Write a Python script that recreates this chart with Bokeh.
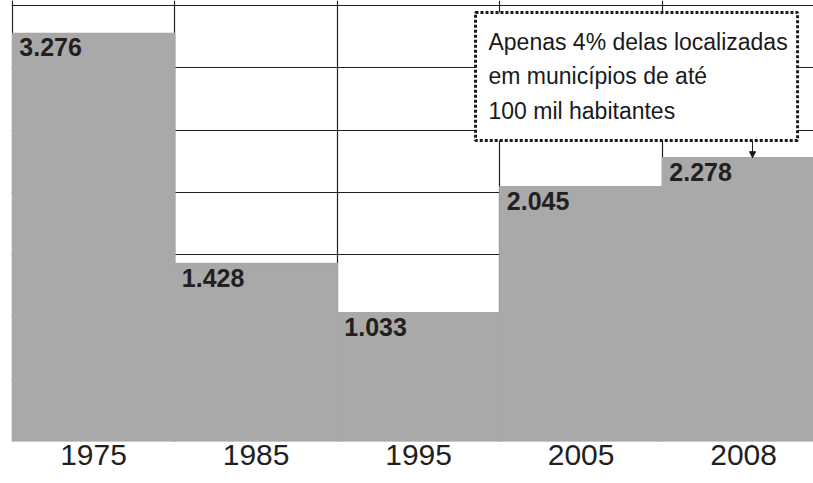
from bokeh.plotting import figure
from bokeh.models import Range1d, FixedTicker, Arrow, NormalHead
from bokeh.core.properties import value
from bokeh.embed import file_html
from bokeh.resources import INLINE

years = ["1975", "1985", "1995", "2005", "2008"]
counts = [3276, 1428, 1033, 2045, 2278]
count_labels = ["3.276", "1.428", "1.033", "2.045", "2.278"]
note_lines = ["Apenas 4% delas localizadas", "em municípios de até", "100 mil habitantes"]
grid_values = [500, 1000, 1500, 2000, 2500, 3000, 3500]

xs = list(range(len(years)))
lefts = [i - 0.5 for i in xs]

p = figure(frame_width=802, frame_height=441, output_backend="svg", toolbar_location=None,
           x_range=Range1d(-0.505, 4.43), y_range=Range1d(0, 3540),
           min_border_left=11, min_border_right=0, min_border_top=0, min_border_bottom=38)
p.outline_line_color = None
p.background_fill_color = "white"
p.border_fill_color = "white"

p.vbar(x=xs, top=counts, width=1.0, bottom=0, fill_color="#a9a9a9",
       line_color="#a9a9a9", line_width=1.5)

p.text(x=lefts, y=counts, text=count_labels, x_offset=7, y_offset=14,
       text_font=value("Liberation Sans"), text_font_style="bold", text_font_size="25px",
       text_color="#231f20", text_baseline="alphabetic", text_align="left")

# note box
p.quad(left=[2.35], right=[4.332], top=[3444], bottom=[2416], fill_color="white",
       line_color="#1a1a1a", line_width=3, line_dash="3 2")
note_y = [3203, 2930, 2657]
p.text(x=[2.43] * 3, y=note_y, text=note_lines, text_font=value("Liberation Sans"),
       text_font_size="23px", text_color="#1a1a1a", text_baseline="alphabetic",
       text_align="left")
p.add_layout(Arrow(end=NormalHead(size=6, fill_color="#1a1a1a", line_color="#1a1a1a"),
                   x_start=4.055, y_start=2410, x_end=4.055, y_end=counts[4],
                   line_color="#1a1a1a", line_width=1))

p.yaxis.visible = False
p.xaxis.ticker = FixedTicker(ticks=xs)
p.xaxis.major_label_overrides = {i: y for i, y in zip(xs, years)}
p.xaxis.axis_line_color = None
p.xaxis.major_tick_line_color = None
p.xaxis.minor_tick_line_color = None
p.xaxis.major_label_text_font = "Liberation Sans"
p.xaxis.major_label_text_font_size = "30px"
p.xaxis.major_label_text_color = "#231f20"
p.xaxis.major_label_standoff = -3

p.xgrid.ticker = FixedTicker(ticks=lefts)
p.xgrid.grid_line_color = "#231f20"
p.xgrid.grid_line_width = 1.2
p.ygrid.ticker = FixedTicker(ticks=grid_values)
p.ygrid.grid_line_color = "#231f20"
p.ygrid.grid_line_width = 1.2

open("out.html", "w").write(file_html(p, INLINE))
